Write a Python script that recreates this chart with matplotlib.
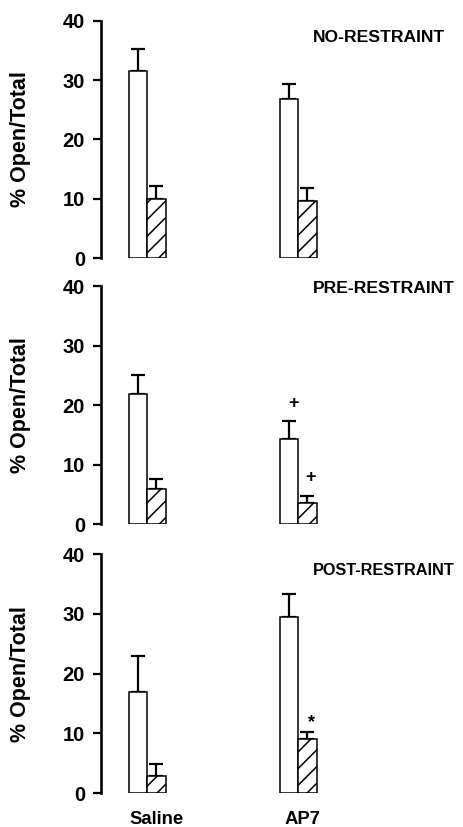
import matplotlib
matplotlib.use("Agg")
import matplotlib.pyplot as plt
import numpy as np

plt.rcParams['font.family'] = ['Liberation Sans', 'DejaVu Sans']
plt.rcParams['font.weight'] = 'bold'
plt.rcParams['hatch.linewidth'] = 1.1

groups = ["Saline", "AP7"]
conditions = ["NO-RESTRAINT", "PRE-RESTRAINT", "POST-RESTRAINT"]
open_mean = [[31.6, 26.9], [21.8, 14.4], [16.9, 29.4]]
open_sem = [[3.6, 2.4], [3.25, 2.9], [6.1, 3.9]]
closed_mean = [[10.0, 9.6], [6.0, 3.6], [2.9, 9.1]]
closed_sem = [[2.2, 2.2], [1.65, 1.15], [1.95, 1.1]]
yticks = [0, 10, 20, 30, 40]
# annotations: (panel, x, y, text)
marks = [(1, 0.967, 20.3, "+"), (1, 1.083, 7.8, "+"), (2, 1.091, 11.8, "*")]

W, H = 464, 827
fig = plt.figure(figsize=(W / 100, H / 100), dpi=100)

panels_px = [(20.7, 258.3), (286.0, 524.3), (554.0, 793.3)]
left_px = 101
w = 0.1225
x = np.arange(len(groups))

axes = []
for i, (top, bot) in enumerate(panels_px):
    ax = fig.add_axes([left_px / W, (H - bot) / H, (W - left_px) / W, (bot - top) / H])
    axes.append(ax)
    ax.bar(x - w / 2, open_mean[i], width=w, facecolor='white', edgecolor='black',
           linewidth=1.1, zorder=2)
    ax.bar(x + w / 2, closed_mean[i], width=w, facecolor='white', edgecolor='black',
           linewidth=1.1, hatch='//', zorder=2)
    ax.errorbar(x - w / 2, open_mean[i], yerr=[np.zeros(2), open_sem[i]], fmt='none',
                ecolor='black', elinewidth=1.6, capsize=5, capthick=1.6, zorder=1)
    ax.errorbar(x + w / 2, closed_mean[i], yerr=[np.zeros(2), closed_sem[i]], fmt='none',
                ecolor='black', elinewidth=1.6, capsize=5, capthick=1.6, zorder=1)
    ax.set_xlim(-0.305, 2.099)
    ax.set_ylim(0, 40)
    ax.set_yticks(yticks)
    ax.set_yticklabels([str(t) for t in yticks], fontsize=14.5, fontweight='bold')
    ax.set_xticks([])
    for s in ['top', 'right', 'bottom']:
        ax.spines[s].set_visible(False)
    ax.spines['left'].set_linewidth(1.9)
    ax.tick_params(axis='y', length=6, width=1.6, pad=5.5)
    ax.set_ylabel("% Open/Total", fontsize=15.5, fontweight='bold')
    ax.yaxis.set_label_coords(-0.193, 0.5)
    ax.patch.set_alpha(0)
    ty = [37.1, 39.6, 37.3][i]
    ax.text(1.099, ty, conditions[i], ha='left', va='center', fontsize=[12.6, 12.6, 11.7][i],
            fontweight='bold', clip_on=False)

for p, mx, my, t in marks:
    axes[p].text(mx, my, t, ha='center', va='center', fontsize=13, fontweight='bold')

for gi, g in enumerate(groups):
    axes[2].text(gi + [0.065, 0.03][gi], -4.3, g, ha='center', va='center', fontsize=13.3,
                 fontweight='bold', clip_on=False)

fig.savefig("out.png", dpi=100)
